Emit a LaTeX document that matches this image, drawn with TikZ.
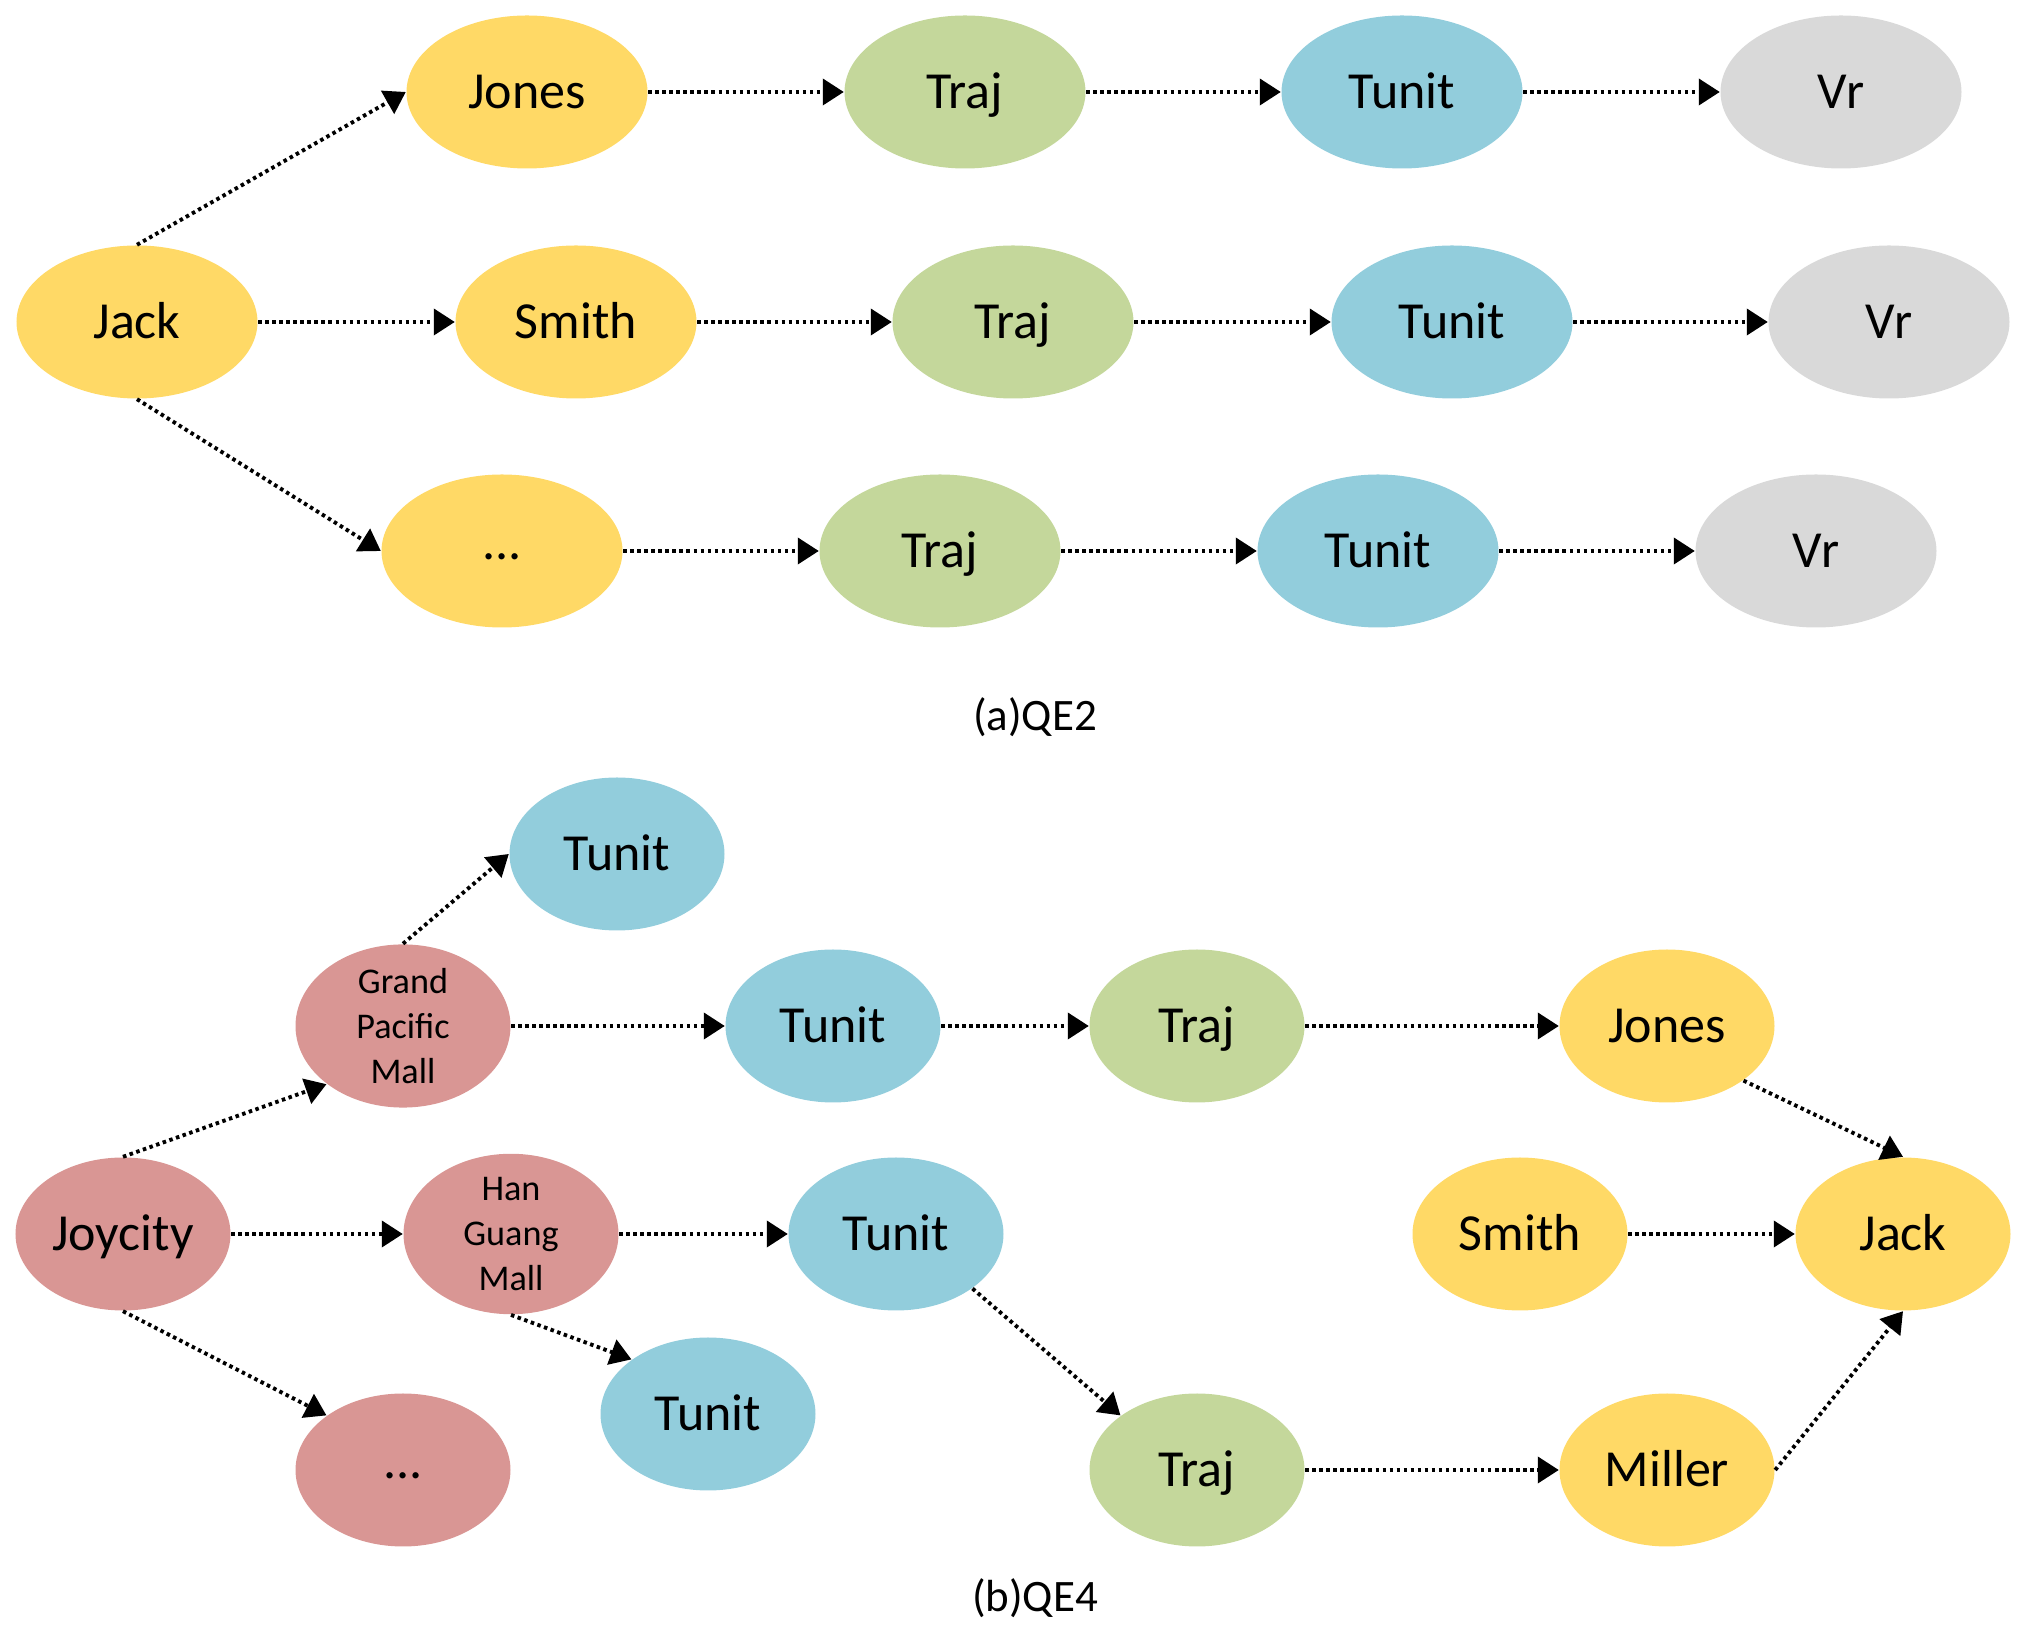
\documentclass[tikz,border=0pt]{standalone}
\usepackage{fontspec}
\setmainfont{Carlito}
\usetikzlibrary{shapes,arrows.meta,positioning,calc}
\definecolor{personYellow}{HTML}{FFD966}
\definecolor{trajGreen}{HTML}{C4D79B}
\definecolor{tunitBlue}{HTML}{92CDDC}
\definecolor{vrGrey}{HTML}{D9D9D9}
\definecolor{mallRed}{HTML}{D99694}
\tikzset{
  >={Triangle[length=2.1mm,width=2.6mm]},
  entity/.style={ellipse,minimum width=24.1mm,minimum height=15.3mm,inner sep=0pt,
    text height=3.4mm,text depth=0mm,font=\fontsize{14.8}{17}\selectfont},
  entitySmall/.style={entity,minimum width=21.5mm},
  dotsText/.style={text height=1.8mm},
  personNode/.style={fill=personYellow},
  trajNode/.style={fill=trajGreen},
  tunitNode/.style={fill=tunitBlue},
  vrNode/.style={fill=vrGrey},
  mallNode/.style={fill=mallRed},
  mallText/.style={align=center,text height=,text depth=,font=\fontsize{10.3}{12.8}\selectfont},
  flow/.style={->,line width=1.1pt,dash pattern=on 1pt off 1pt},
  caption/.style={font=\fontsize{12.8}{14}\selectfont},
}

\begin{document}
\begin{tikzpicture}

\useasboundingbox (0,0) rectangle (20.34,-16.32);

% ===== (a) QE2 =====
\node[entity,personNode] (jackA) at (1.37,-3.22) {Jack};
\node[entity,personNode] (jonesA) at (5.27,-0.92) {Jones};
\node[entity,personNode] (smithA) at (5.76,-3.22) {Smith};
\node[entity,personNode,dotsText] (dotsA) at (5.02,-5.51) {...};

\node[entity,trajNode] (trajA1) at (9.65,-0.92) {Traj};
\node[entity,trajNode] (trajA2) at (10.13,-3.22) {Traj};
\node[entity,trajNode] (trajA3) at (9.40,-5.51) {Traj};

\node[entity,tunitNode] (tunitA1) at (14.02,-0.92) {Tunit};
\node[entity,tunitNode] (tunitA2) at (14.52,-3.22) {Tunit};
\node[entity,tunitNode] (tunitA3) at (13.78,-5.51) {Tunit};

\node[entity,vrNode] (vrA1) at (18.41,-0.92) {Vr};
\node[entity,vrNode] (vrA2) at (18.89,-3.22) {Vr};
\node[entity,vrNode] (vrA3) at (18.16,-5.51) {Vr};

\draw[flow] (jackA.north) -- (jonesA.west);
\draw[flow] (jackA.east) -- (smithA.west);
\draw[flow] (jackA.south) -- (dotsA.west);
\draw[flow] (jonesA.east) -- (trajA1.west);
\draw[flow] (smithA.east) -- (trajA2.west);
\draw[flow] (dotsA.east) -- (trajA3.west);
\foreach \i in {1,2,3} {
  \draw[flow] (trajA\i.east) -- (tunitA\i.west);
  \draw[flow] (tunitA\i.east) -- (vrA\i.west);
}

\node[caption] (captionA) at (10.35,-7.17) {(a)QE2};

% ===== (b) QE4 =====
\node[entitySmall,mallNode] (joycityB) at (1.23,-12.34) {Joycity};
\node[entitySmall,mallNode,mallText] (grandMall) at (4.03,-10.26) {Grand\\Pacific\\Mall};
\node[entitySmall,mallNode,mallText] (hanMall) at (5.11,-12.34) {Han\\Guang\\Mall};
\node[entitySmall,mallNode,dotsText] (dotsB) at (4.03,-14.70) {...};

\node[entitySmall,tunitNode] (tunitB1) at (6.17,-8.54) {Tunit};
\node[entitySmall,tunitNode] (tunitB2) at (8.33,-10.26) {Tunit};
\node[entitySmall,tunitNode] (tunitB3) at (8.96,-12.34) {Tunit};
\node[entitySmall,tunitNode] (tunitB4) at (7.08,-14.14) {Tunit};

\node[entitySmall,trajNode] (trajB1) at (11.97,-10.26) {Traj};
\node[entitySmall,trajNode] (trajB2) at (11.97,-14.70) {Traj};

\node[entitySmall,personNode] (jonesB) at (16.67,-10.26) {Jones};
\node[entitySmall,personNode] (smithB) at (15.20,-12.34) {Smith};
\node[entitySmall,personNode] (millerB) at (16.67,-14.70) {Miller};
\node[entitySmall,personNode] (jackB) at (19.03,-12.34) {Jack};

\draw[flow] (joycityB.north) -- (grandMall.south west);
\draw[flow] (joycityB.east) -- (hanMall.west);
\draw[flow] (joycityB.south) -- (dotsB.north west);
\draw[flow] (grandMall.north) -- (tunitB1.west);
\draw[flow] (grandMall.east) -- (tunitB2.west);
\draw[flow] (hanMall.east) -- (tunitB3.west);
\draw[flow] (hanMall.south) -- (tunitB4.north west);
\draw[flow] (tunitB2.east) -- (trajB1.west);
\draw[flow] (trajB1.east) -- (jonesB.west);
\draw[flow] (tunitB3.south east) -- (trajB2.north west);
\draw[flow] (trajB2.east) -- (millerB.west);
\draw[flow] (jonesB.south east) -- (jackB.north);
\draw[flow] (smithB.east) -- (jackB.west);
\draw[flow] (millerB.east) -- (jackB.south);

\node[caption] (captionB) at (10.35,-15.98) {(b)QE4};

\end{tikzpicture}
\end{document}
